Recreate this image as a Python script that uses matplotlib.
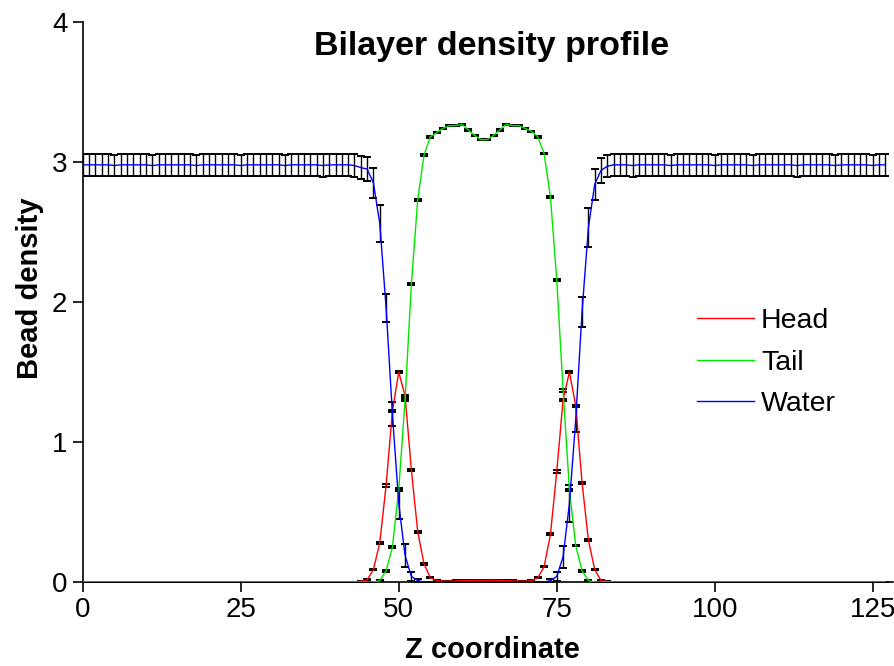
import numpy as np
import matplotlib
matplotlib.use("Agg")
import matplotlib.pyplot as plt

# bilayer density profile - bead density per slab along z

z = np.arange(128)

water = [
    2.98, 2.98, 2.98, 2.98, 2.98, 2.975, 2.98, 2.98, 2.98, 2.98, 2.98, 2.975, 2.98, 2.98, 2.98, 2.98,
    2.98, 2.98, 2.975, 2.98, 2.98, 2.98, 2.98, 2.98, 2.98, 2.975, 2.98, 2.98, 2.98, 2.98, 2.98, 2.98,
    2.975, 2.98, 2.98, 2.98, 2.98, 2.98, 2.975, 2.98, 2.98, 2.98, 2.98, 2.975, 2.96, 2.95, 2.85, 2.56,
    1.96, 1.20, 0.56, 0.19, 0.04, 0.01, 0, 0, 0, 0, 0, 0, 0, 0, 0, 0,
    0, 0, 0, 0, 0, 0, 0, 0, 0, 0, 0.01, 0.04, 0.18, 0.56, 1.16, 1.93,
    2.53, 2.84, 2.94, 2.97, 2.98, 2.98, 2.98, 2.975, 2.98, 2.98, 2.98, 2.98, 2.98, 2.975, 2.98, 2.98,
    2.98, 2.98, 2.98, 2.98, 2.975, 2.98, 2.98, 2.98, 2.98, 2.98, 2.975, 2.98, 2.98, 2.98, 2.98, 2.98,
    2.98, 2.975, 2.98, 2.98, 2.98, 2.98, 2.98, 2.975, 2.98, 2.98, 2.98, 2.98, 2.98, 2.975, 2.98, 2.98,
]
water_err = [
    0.078, 0.077, 0.079, 0.078, 0.078, 0.077, 0.078, 0.079, 0.078, 0.078, 0.077, 0.078, 0.079, 0.078, 0.078, 0.077,
    0.078, 0.079, 0.078, 0.078, 0.077, 0.078, 0.078, 0.079, 0.078, 0.077, 0.078, 0.078, 0.079, 0.078, 0.077, 0.078,
    0.078, 0.079, 0.078, 0.077, 0.078, 0.078, 0.079, 0.078, 0.077, 0.078, 0.078, 0.079, 0.080, 0.087, 0.107, 0.130,
    0.100, 0.085, 0.110, 0.080, 0.030, 0.010, 0, 0, 0, 0, 0, 0, 0, 0, 0, 0,
    0, 0, 0, 0, 0, 0, 0, 0, 0, 0, 0.010, 0.030, 0.080, 0.130, 0.090, 0.105,
    0.140, 0.110, 0.090, 0.080, 0.078, 0.077, 0.078, 0.079, 0.078, 0.078, 0.077, 0.078, 0.079, 0.078, 0.078, 0.077,
    0.078, 0.079, 0.078, 0.078, 0.077, 0.078, 0.078, 0.079, 0.078, 0.077, 0.078, 0.078, 0.079, 0.078, 0.077, 0.078,
    0.078, 0.079, 0.078, 0.077, 0.078, 0.078, 0.079, 0.078, 0.077, 0.078, 0.078, 0.079, 0.078, 0.077, 0.078, 0.078,
]

tail = [
    0, 0, 0, 0, 0, 0, 0, 0, 0, 0, 0, 0, 0, 0, 0, 0,
    0, 0, 0, 0, 0, 0, 0, 0, 0, 0, 0, 0, 0, 0, 0, 0,
    0, 0, 0, 0, 0, 0, 0, 0, 0, 0, 0, 0, 0, 0, 0, 0.01,
    0.08, 0.25, 0.66, 1.30, 2.13, 2.73, 3.05, 3.18, 3.21, 3.24, 3.26, 3.26, 3.27, 3.23, 3.19, 3.16,
    3.16, 3.19, 3.23, 3.27, 3.26, 3.26, 3.24, 3.22, 3.18, 3.06, 2.75, 2.16, 1.37, 0.66, 0.26, 0.08,
    0.01, 0, 0, 0, 0, 0, 0, 0, 0, 0, 0, 0, 0, 0, 0, 0,
    0, 0, 0, 0, 0, 0, 0, 0, 0, 0, 0, 0, 0, 0, 0, 0,
    0, 0, 0, 0, 0, 0, 0, 0, 0, 0, 0, 0, 0, 0, 0, 0,
]
tail_err = [
    0, 0, 0, 0, 0, 0, 0, 0, 0, 0, 0, 0, 0, 0, 0, 0,
    0, 0, 0, 0, 0, 0, 0, 0, 0, 0, 0, 0, 0, 0, 0, 0,
    0, 0, 0, 0, 0, 0, 0, 0, 0, 0, 0, 0, 0, 0, 0, 0.003,
    0.005, 0.006, 0.008, 0.010, 0.008, 0.007, 0.006, 0.005, 0.005, 0.006, 0.006, 0.005, 0.005, 0.006, 0.006, 0.005,
    0.005, 0.006, 0.006, 0.005, 0.005, 0.006, 0.006, 0.005, 0.005, 0.006, 0.007, 0.008, 0.010, 0.008, 0.006, 0.005,
    0.003, 0, 0, 0, 0, 0, 0, 0, 0, 0, 0, 0, 0, 0, 0, 0,
    0, 0, 0, 0, 0, 0, 0, 0, 0, 0, 0, 0, 0, 0, 0, 0,
    0, 0, 0, 0, 0, 0, 0, 0, 0, 0, 0, 0, 0, 0, 0, 0,
]

head = [
    0, 0, 0, 0, 0, 0, 0, 0, 0, 0, 0, 0, 0, 0, 0, 0,
    0, 0, 0, 0, 0, 0, 0, 0, 0, 0, 0, 0, 0, 0, 0, 0,
    0, 0, 0, 0, 0, 0, 0, 0, 0, 0, 0, 0, 0.003, 0.015, 0.09, 0.28,
    0.69, 1.22, 1.50, 1.33, 0.80, 0.36, 0.13, 0.03, 0.01, 0.006, 0.006, 0.008, 0.010, 0.011, 0.012, 0.012,
    0.012, 0.012, 0.011, 0.010, 0.008, 0.006, 0.006, 0.01, 0.03, 0.11, 0.34, 0.79, 1.30, 1.50, 1.26, 0.71,
    0.30, 0.09, 0.01, 0.003, 0, 0, 0, 0, 0, 0, 0, 0, 0, 0, 0, 0,
    0, 0, 0, 0, 0, 0, 0, 0, 0, 0, 0, 0, 0, 0, 0, 0,
    0, 0, 0, 0, 0, 0, 0, 0, 0, 0, 0, 0, 0, 0, 0, 0,
]
head_err = [
    0, 0, 0, 0, 0, 0, 0, 0, 0, 0, 0, 0, 0, 0, 0, 0,
    0, 0, 0, 0, 0, 0, 0, 0, 0, 0, 0, 0, 0, 0, 0, 0,
    0, 0, 0, 0, 0, 0, 0, 0, 0, 0, 0, 0, 0.002, 0.004, 0.006, 0.008,
    0.008, 0.008, 0.008, 0.008, 0.008, 0.007, 0.006, 0.004, 0.004, 0.004, 0.004, 0.004, 0.004, 0.004, 0.004, 0.004,
    0.004, 0.004, 0.004, 0.004, 0.004, 0.004, 0.004, 0.004, 0.004, 0.006, 0.007, 0.008, 0.008, 0.008, 0.008, 0.008,
    0.008, 0.006, 0.004, 0.002, 0, 0, 0, 0, 0, 0, 0, 0, 0, 0, 0, 0,
    0, 0, 0, 0, 0, 0, 0, 0, 0, 0, 0, 0, 0, 0, 0, 0,
    0, 0, 0, 0, 0, 0, 0, 0, 0, 0, 0, 0, 0, 0, 0, 0,
]

x_ticks = [0, 25, 50, 75, 100, 125]
y_ticks = [0, 1, 2, 3, 4]

plt.rcParams['font.family'] = ['Liberation Sans', 'DejaVu Sans']

fig = plt.figure(figsize=(8.95, 6.66), dpi=100)
ax = fig.add_axes([0.0924, 0.1261, 0.9054, 0.8408])

# error bars first, curves on top
for vals, errs in [(head, head_err), (tail, tail_err), (water, water_err)]:
    ax.errorbar(z, vals, yerr=errs, fmt='none', ecolor='black',
                elinewidth=1.0, capsize=2.9, capthick=1.4, zorder=2)

ax.plot(z, head, color='#ff0000', lw=1.0, label='Head', zorder=3)
ax.plot(z, tail, color='#00e600', lw=1.0, label='Tail', zorder=3)
ax.plot(z, water, color='#0000ff', lw=1.0, label='Water', zorder=3)

ax.set_xlim(0, 128.2)
ax.set_ylim(0, 4)
ax.set_xticks(x_ticks)
ax.set_yticks(y_ticks)

for side in ['top', 'right']:
    ax.spines[side].set_visible(False)
for side in ['left', 'bottom']:
    ax.spines[side].set_linewidth(1.2)

ax.tick_params(direction='out', length=7, width=1.2, pad=4)
for lab in ax.get_xticklabels() + ax.get_yticklabels():
    lab.set_fontsize(20)

fig.text(492 / 895, 1 - 47 / 666, 'Bilayer density profile', ha='center', va='center',
         fontsize=24.5, fontweight='bold')
fig.text(492 / 895, 1 - 650 / 666, 'Z coordinate', ha='center', va='center',
         fontsize=21, fontweight='bold')
fig.text(30 / 895, 1 - 288 / 666, 'Bead density', ha='center', va='center',
         rotation=90, fontsize=21, fontweight='bold')

ax.legend(loc='upper left', bbox_to_anchor=(697 / 895, 1 - 308 / 666),
          bbox_transform=fig.transFigure, frameon=False, fontsize=20.5,
          handlelength=2.0, handletextpad=0.25, labelspacing=0.55,
          borderpad=0, borderaxespad=0)

fig.savefig('out.png', dpi=100)
